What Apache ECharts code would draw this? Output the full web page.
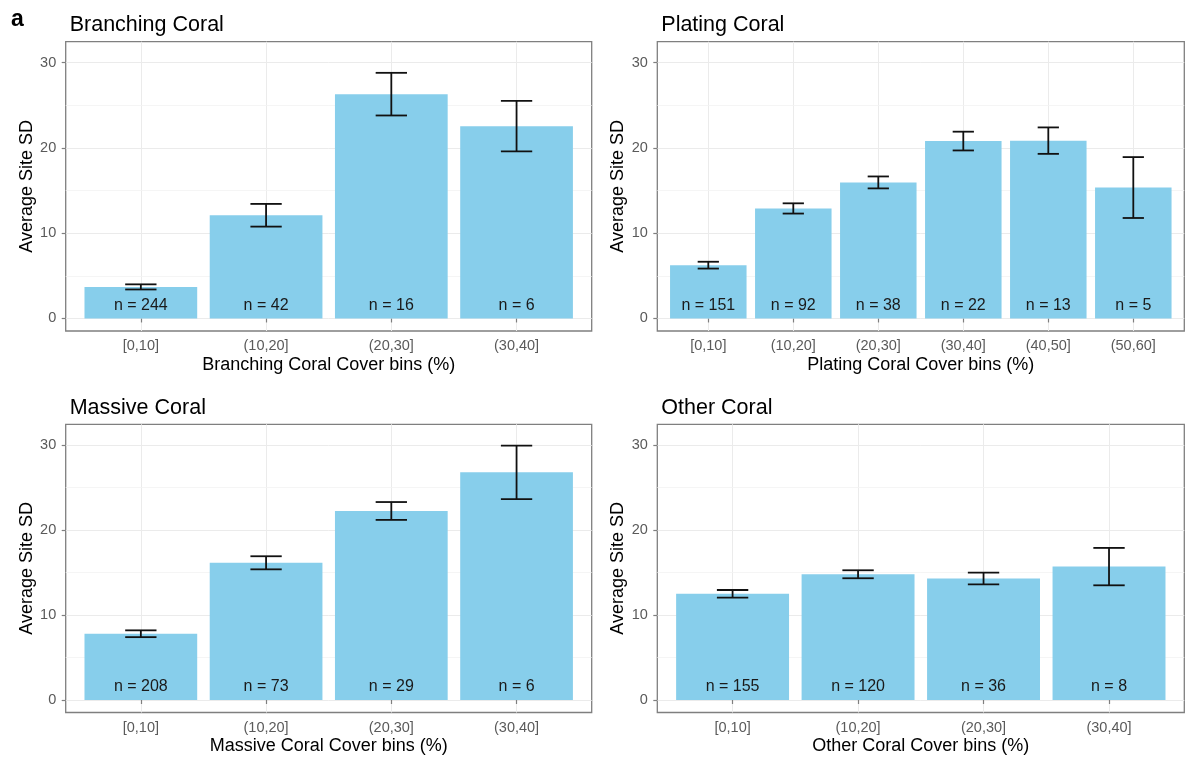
<!DOCTYPE html>
<html>
<head>
<meta charset="utf-8">
<title>Average Site SD by coral cover bins</title>
<script src="https://cdn.jsdelivr.net/npm/echarts@6/dist/echarts.min.js"></script>
<style>
  html, body { margin: 0; padding: 0; background: #ffffff; }
  #chart { width: 1187px; height: 762px; }
</style>
</head>
<body>
<div id="chart"></div>
<script>
// Cover bins
const bins4 = ['[0,10]', '(10,20]', '(20,30]', '(30,40]'];
const bins6 = ['[0,10]', '(10,20]', '(20,30]', '(30,40]', '(40,50]', '(50,60]'];
const yTicks = [0, 10, 20, 30];
const yMinorTicks = [5, 15, 25];

// Branching coral
const branchingMean = [3.7, 12.1, 26.3, 22.55];
const branchingSE = [0.3, 1.33, 2.5, 2.97];
const branchingN = [244, 42, 16, 6];

// Plating coral
const platingMean = [6.25, 12.9, 15.95, 20.8, 20.85, 15.35];
const platingSE = [0.4, 0.6, 0.7, 1.1, 1.55, 3.57];
const platingN = [151, 92, 38, 22, 13, 5];

// Massive coral
const massiveMean = [7.8, 16.15, 22.25, 26.8];
const massiveSE = [0.4, 0.77, 1.05, 3.15];
const massiveN = [208, 73, 29, 6];

// Other coral
const otherMean = [12.5, 14.8, 14.3, 15.7];
const otherSE = [0.45, 0.47, 0.7, 2.2];
const otherN = [155, 120, 36, 8];

const FONT = "'Liberation Sans', Arial, Helvetica, sans-serif";

const panels = [
  { title: 'Branching Coral', xName: 'Branching Coral Cover bins (%)', bins: bins4,
    mean: branchingMean, se: branchingSE, n: branchingN,
    rect: { left: 65.7, top: 41.7, width: 526, height: 289.3 } },
  { title: 'Plating Coral', xName: 'Plating Coral Cover bins (%)', bins: bins6,
    mean: platingMean, se: platingSE, n: platingN,
    rect: { left: 657.3, top: 41.7, width: 527, height: 289.3 } },
  { title: 'Massive Coral', xName: 'Massive Coral Cover bins (%)', bins: bins4,
    mean: massiveMean, se: massiveSE, n: massiveN,
    rect: { left: 65.7, top: 424.3, width: 526, height: 288.2 } },
  { title: 'Other Coral', xName: 'Other Coral Cover bins (%)', bins: bins4,
    mean: otherMean, se: otherSE, n: otherN,
    rect: { left: 657.3, top: 424.3, width: 527, height: 288.2 } }
];

const grids = [], xAxes = [], yAxes = [], series = [], titles = [];

// Panel tag
titles.push({
  text: 'a', left: 6, top: 3,
  textStyle: { fontFamily: FONT, fontSize: 23, fontWeight: 'bold', color: '#000' }
});

function errorBarItem(params, api) {
  const x = api.value(0);
  const lo = api.coord([x, api.value(1)]);
  const hi = api.coord([x, api.value(2)]);
  const half = api.size([0.25, 0])[0] / 2;
  const style = { stroke: '#111111', lineWidth: 1.8 };
  return {
    type: 'group',
    children: [
      { type: 'line', shape: { x1: lo[0], y1: lo[1], x2: hi[0], y2: hi[1] }, style: style },
      { type: 'line', shape: { x1: lo[0] - half, y1: lo[1], x2: lo[0] + half, y2: lo[1] }, style: style },
      { type: 'line', shape: { x1: hi[0] - half, y1: hi[1], x2: hi[0] + half, y2: hi[1] }, style: style }
    ]
  };
}

panels.forEach((p, i) => {
  const positions = p.bins.map((_, k) => k + 1);

  titles.push({
    text: p.title, left: p.rect.left - 1, top: p.rect.top - 32.5,
    textStyle: { fontFamily: FONT, fontSize: 21.5, fontWeight: 'normal', color: '#000' }
  });

  grids.push(Object.assign({
    show: true, borderColor: '#7f7f7f', borderWidth: 1.3
  }, p.rect));

  xAxes.push({
    type: 'value', gridIndex: i,
    min: 0.4, max: p.bins.length + 0.6,
    name: p.xName, nameLocation: 'middle', nameGap: 25,
    nameTextStyle: { fontFamily: FONT, fontSize: 18, color: '#000' },
    axisLine: { show: false },
    axisTick: { show: true, customValues: positions, length: 4,
      lineStyle: { color: '#7f7f7f', width: 1.2 } },
    axisLabel: { customValues: positions, margin: 7.5,
      fontFamily: FONT, fontSize: 14.5, color: '#5a5a5a',
      formatter: v => p.bins[Math.round(v) - 1] },
    splitLine: { show: true, lineStyle: { color: '#ebebeb', width: 1 } }
  });

  yAxes.push({
    type: 'value', gridIndex: i,
    min: -1.47, max: 32.45,
    name: 'Average Site SD', nameLocation: 'middle', nameGap: 30, nameRotate: 90,
    nameTextStyle: { fontFamily: FONT, fontSize: 18, color: '#000' },
    axisLine: { show: false },
    axisTick: { show: true, customValues: yTicks, length: 4,
      lineStyle: { color: '#7f7f7f', width: 1.2 } },
    axisLabel: { customValues: yTicks, margin: 9.5,
      fontFamily: FONT, fontSize: 14.5, color: '#5a5a5a' },
    splitLine: { show: true, lineStyle: { color: '#ebebeb', width: 1 } }
  });

  // minor horizontal grid lines, kept behind the bars
  series.push({
    type: 'line', xAxisIndex: i, yAxisIndex: i, z: 1,
    data: [], silent: true, symbol: 'none',
    markLine: {
      z: 1,
      silent: true, symbol: 'none', animation: false,
      label: { show: false },
      lineStyle: { color: '#f3f3f3', width: 0.8, type: 'solid' },
      emphasis: { disabled: true },
      data: yMinorTicks.map(v => ({ yAxis: v }))
    }
  });

  series.push({
    type: 'bar', xAxisIndex: i, yAxisIndex: i, z: 3,
    barWidth: '90%',
    itemStyle: { color: '#87ceeb' },
    emphasis: { disabled: true },
    label: {
      show: true, position: 'insideBottom', distance: 13.3, verticalAlign: 'middle',
      fontFamily: FONT, fontSize: 16, color: '#1a1a1a',
      formatter: prm => 'n = ' + p.n[prm.dataIndex]
    },
    data: p.mean.map((m, k) => [positions[k], m])
  });

  series.push({
    type: 'custom', xAxisIndex: i, yAxisIndex: i, z: 4,
    renderItem: errorBarItem,
    silent: true,
    encode: { x: 0, y: [1, 2] },
    data: p.mean.map((m, k) => [positions[k], m - p.se[k], m + p.se[k]])
  });
});

const chart = echarts.init(document.getElementById('chart'), null, { renderer: 'canvas' });
chart.setOption({
  animation: false,
  backgroundColor: '#ffffff',
  title: titles,
  grid: grids,
  xAxis: xAxes,
  yAxis: yAxes,
  series: series
});
</script>
</body>
</html>
